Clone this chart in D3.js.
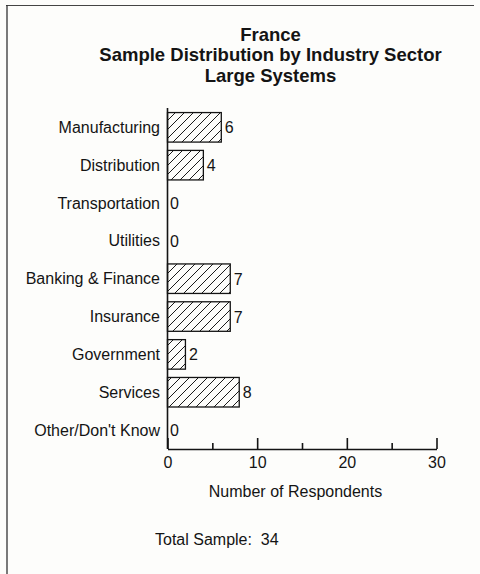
<!DOCTYPE html>
<html>
<head>
<meta charset="utf-8">
<script src="https://cdn.jsdelivr.net/npm/d3@7"></script>
<style>
  html, body { margin: 0; padding: 0; background: #fdfdfb; }
  svg { display: block; }
  text { font-family: "Liberation Sans", Arial, Helvetica, sans-serif; fill: #141414; }
</style>
</head>
<body>
<script>
const categories = ["Manufacturing", "Distribution", "Transportation", "Utilities",
  "Banking & Finance", "Insurance", "Government", "Services", "Other/Don't Know"];
const values = [6, 4, 0, 0, 7, 7, 2, 8, 0];
const titleLines = ["France", "Sample Distribution by Industry Sector", "Large Systems"];
const majorTicks = [0, 10, 20, 30];
const minorTicks = [5, 15, 25];
const xTitle = "Number of Respondents";
const footnote = "Total Sample:  34";

const W = 480, H = 574;
const svg = d3.select("body").append("svg").attr("width", W).attr("height", H);

// hatch pattern
const defs = svg.append("defs");
const pat = defs.append("pattern").attr("id", "hatch")
  .attr("patternUnits", "userSpaceOnUse").attr("width", 9).attr("height", 9);
pat.append("path").attr("d", "M-2,2 L2,-2 M0,9 L9,0 M7,11 L11,7")
  .attr("stroke", "#1a1a1a").attr("stroke-width", 1);

// frame
svg.append("line").attr("x1", 6).attr("x2", 474).attr("y1", 5.5).attr("y2", 5.5)
  .attr("stroke", "#444").attr("stroke-width", 1);
svg.append("line").attr("x1", 7).attr("x2", 7).attr("y1", 5).attr("y2", H)
  .attr("stroke", "#333").attr("stroke-width", 1.3);

// title
svg.append("g").selectAll("text").data(titleLines).join("text")
  .attr("x", 270.5).attr("y", (d, i) => 40.5 + i * 20.7)
  .attr("text-anchor", "middle").attr("font-weight", "bold").attr("font-size", 18.5)
  .text(d => d);

const x = d3.scaleLinear().domain([0, 30]).range([167.5, 436.5]);
const y = d3.scaleBand().domain(categories).range([108.4, 449])
  .paddingInner(0.22).paddingOuter(0.11);

// bars
svg.append("g").selectAll("rect").data(values).join("rect")
  .attr("x", x(0)).attr("y", (d, i) => y(categories[i]))
  .attr("width", d => x(d) - x(0)).attr("height", y.bandwidth())
  .attr("fill", "url(#hatch)").attr("stroke", "#141414").attr("stroke-width", 1.3)
  .attr("display", d => d > 0 ? null : "none");

// value labels
svg.append("g").selectAll("text").data(values).join("text")
  .attr("x", d => x(d) + (d > 0 ? 3.5 : 2.5))
  .attr("y", (d, i) => y(categories[i]) + y.bandwidth() / 2 + 6)
  .attr("font-size", 16).text(d => d);

// category labels
svg.append("g").selectAll("text").data(categories).join("text")
  .attr("x", 160).attr("y", d => y(d) + y.bandwidth() / 2 + 5.5)
  .attr("text-anchor", "end").attr("font-size", 16).text(d => d);

// y axis line
svg.append("line").attr("x1", x(0)).attr("x2", x(0)).attr("y1", 108).attr("y2", 449)
  .attr("stroke", "#141414").attr("stroke-width", 1.6);

// x axis
const xAxis = d3.axisBottom(x).tickValues(majorTicks).tickSize(-11).tickSizeOuter(0).tickPadding(8);
const gx = svg.append("g").attr("transform", "translate(0,449)").call(xAxis);
gx.select(".domain").attr("stroke", "#141414").attr("stroke-width", 1.6);
gx.selectAll(".tick line").attr("stroke", "#141414").attr("stroke-width", 1.6);
gx.selectAll(".tick text").attr("font-size", 16).attr("font-family", null).attr("fill", "#141414");
const xMinor = d3.axisBottom(x).tickValues(minorTicks).tickSize(-6).tickFormat("");
const gm = svg.append("g").attr("transform", "translate(0,449)").call(xMinor);
gm.select(".domain").remove();
gm.selectAll(".tick line").attr("stroke", "#141414").attr("stroke-width", 1.6);

// axis title
svg.append("text").attr("x", 295.5).attr("y", 497).attr("text-anchor", "middle")
  .attr("font-size", 16).text(xTitle);

// footnote
svg.append("text").attr("x", 155).attr("y", 545).attr("font-size", 16)
  .style("white-space", "pre").text(footnote);
</script>
</body>
</html>
